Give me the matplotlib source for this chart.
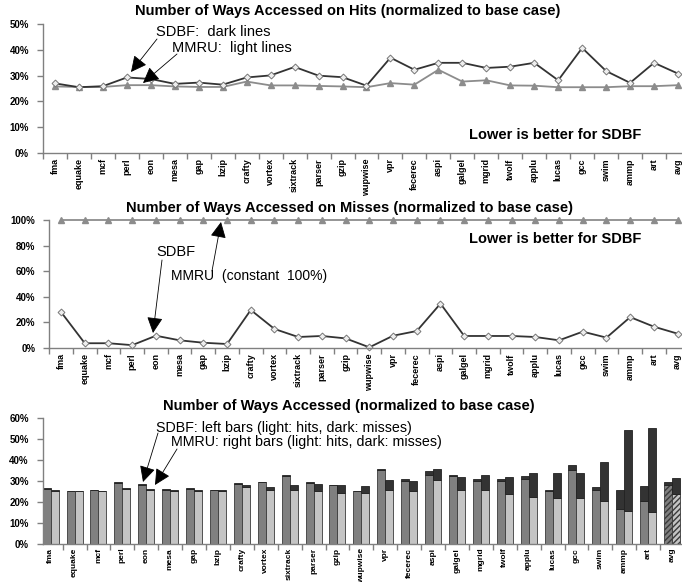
import numpy as np
import matplotlib
matplotlib.use("Agg")
import matplotlib.pyplot as plt
from matplotlib.ticker import FuncFormatter, FixedLocator

plt.rcParams['font.family'] = ['Liberation Sans', 'DejaVu Sans']

bench = ['fma', 'equake', 'mcf', 'perl', 'eon', 'mesa', 'gap', 'bzip', 'crafty',
         'vortex', 'sixtrack', 'parser', 'gzip', 'wupwise', 'vpr', 'fecerec', 'aspi',
         'galgel', 'mgrid', 'twolf', 'applu', 'lucas', 'gcc', 'swim', 'ammp', 'art', 'avg']

# ways accessed on hits (%)
hits_sdbf = [27.0, 25.5, 25.9, 29.3, 28.7, 26.8, 27.3, 26.5, 29.3, 30.1, 33.4, 30.0, 29.4,
             26.1, 37.0, 32.3, 35.0, 35.0, 33.0, 33.5, 35.0, 28.2, 40.8, 31.8, 27.2, 35.0, 30.8]
hits_mmru = [25.8, 25.6, 25.6, 26.3, 26.3, 25.8, 25.6, 25.6, 27.7, 26.2, 26.2, 26.0, 25.8,
             25.5, 27.1, 26.5, 32.3, 27.7, 28.2, 26.2, 26.1, 25.5, 25.5, 25.5, 25.9, 25.9, 26.3]

# ways accessed on misses (%)
miss_sdbf = [28.0, 3.5, 3.5, 2.0, 9.4, 5.8, 3.9, 2.9, 29.6, 14.7, 8.4, 9.2, 7.3,
             0.3, 9.4, 13.1, 34.6, 9.2, 9.2, 9.2, 8.4, 5.8, 12.6, 7.9, 24.0, 16.5, 11.0]
miss_mmru = [100, 100, 100, 100, 100, 100, 100, 100, 100, 100, 100, 100, 100, 100,
             100, 100, 100, 100, 100, 100, 100, 100, 100, 100, 100, 100, 100]

# overall ways accessed, split in hit / miss part (%)
all_sdbf_hit = [26.5, 25.2, 25.7, 29.1, 28.4, 26.0, 26.5, 25.7, 28.6, 29.4, 32.4, 29.2, 28.1,
                25.3, 35.2, 30.3, 32.7, 32.4, 30.2, 30.3, 31.0, 25.1, 35.4, 25.7, 16.7, 20.8, 28.4]
all_sdbf_miss = [0.2, 0.1, 0.2, 0.3, 0.3, 0.2, 0.2, 0.2, 0.3, 0.3, 0.5, 0.5, 0.3,
                 0.1, 0.6, 0.8, 2.2, 0.5, 0.8, 0.8, 1.4, 0.5, 2.1, 1.4, 9.2, 6.7, 1.3]
all_mmru_hit = [25.5, 25.2, 25.2, 26.2, 25.8, 25.5, 25.2, 25.2, 27.3, 25.9, 25.9, 25.1, 24.6,
                24.3, 25.9, 25.1, 30.6, 25.6, 25.9, 23.8, 22.7, 21.9, 22.1, 20.6, 16.0, 15.4, 24.1]
all_mmru_miss = [0.2, 0.2, 0.2, 0.5, 0.4, 0.4, 0.5, 0.5, 0.8, 1.1, 2.2, 3.5, 3.5,
                 3.3, 4.6, 5.1, 5.3, 6.6, 7.0, 8.1, 11.4, 11.9, 12.0, 18.4, 38.1, 39.8, 7.5]

W, H = 682, 582
fig = plt.figure(figsize=(W / 100, H / 100), dpi=100)
fig.patch.set_facecolor('white')

AXC = '#808080'


def add_ax(left, top, right, bottom):
    return fig.add_axes([left / W, 1 - bottom / H, (right - left) / W, (bottom - top) / H])


def style(ax, ymax, ystep, x0, xfs=6.5, xpad=4):
    x = np.arange(len(bench))
    ax.set_xlim(x0, len(bench) - 0.5)
    ax.set_ylim(0, ymax)
    for s in ['top', 'right']:
        ax.spines[s].set_visible(False)
    for s in ['left', 'bottom']:
        ax.spines[s].set_color(AXC)
        ax.spines[s].set_linewidth(1.0)
    ax.set_yticks(np.arange(0, ymax + 0.1, ystep))
    ax.yaxis.set_major_formatter(FuncFormatter(lambda v, p: '%d%%' % v))
    ax.set_xticks(x)
    ax.set_xticklabels(bench, rotation=90, fontsize=xfs, fontweight='bold')
    ax.xaxis.set_minor_locator(FixedLocator(np.arange(-0.5, len(bench), 1.0)))
    ax.tick_params(axis='x', which='major', length=0, pad=xpad)
    ax.tick_params(axis='x', which='minor', length=4, color=AXC, width=1)
    ax.tick_params(axis='y', length=4, color=AXC, width=1, labelsize=7, pad=6)
    for t in ax.get_yticklabels():
        t.set_fontweight('bold')


def arrow(x0, y0, x1, y1):
    fig.add_artist(matplotlib.patches.FancyArrowPatch(
        (x0 / W, 1 - y0 / H), (x1 / W, 1 - y1 / H), transform=fig.transFigure,
        arrowstyle='-|>,head_length=0.7,head_width=0.35', mutation_scale=14,
        color='black', lw=0.6, shrinkA=0, shrinkB=0))


def ftext(x, y, s, **kw):
    fig.text(x / W, 1 - y / H, s, va='center', **kw)


x = np.arange(len(bench))

# ---- top: hits
ax1 = add_ax(43, 24.3, 690, 152.7)
style(ax1, 50, 10, -0.5)
ax1.plot(x, hits_mmru, color='#8c8c8c', lw=1.3, marker='^', ms=4.5,
         mfc='#8c8c8c', mec='#8c8c8c', clip_on=False)
ax1.plot(x, hits_sdbf, color='#333333', lw=1.3, marker='D', ms=3.5,
         mfc='#eeeeee', mec='#777777', mew=0.7, clip_on=False)

ftext(348, 11, 'Number of Ways Accessed on Hits (normalized to base case)',
      ha='center', fontsize=10.5, fontweight='bold')
ftext(156, 32, 'SDBF:  dark lines', ha='left', fontsize=10.5)
ftext(172, 48, 'MMRU:  light lines', ha='left', fontsize=10.5)
ftext(555, 135, 'Lower is better for SDBF', ha='center', fontsize=10.5, fontweight='bold')
arrow(157, 39, 131, 72)
arrow(177, 54, 143, 83)

# ---- middle: misses
ax2 = add_ax(49.2, 220.3, 689.5, 347.7)
style(ax2, 100, 20, -0.5)
ax2.plot(x, miss_mmru, color='#8c8c8c', lw=1.3, marker='^', ms=4.5,
         mfc='#8c8c8c', mec='#8c8c8c', clip_on=False)
ax2.plot(x, miss_sdbf, color='#333333', lw=1.3, marker='D', ms=3.5,
         mfc='#eeeeee', mec='#777777', mew=0.7, clip_on=False)

ftext(349, 208, 'Number of Ways Accessed on Misses (normalized to base case)',
      ha='center', fontsize=10.5, fontweight='bold')
ftext(156, 252, 'SDBF', ha='left', fontsize=10.5)
ftext(171, 276, 'MMRU  (constant  100%)', ha='left', fontsize=10)
ftext(555, 239, 'Lower is better for SDBF', ha='center', fontsize=10.5, fontweight='bold')
arrow(162, 260, 153, 333)
arrow(212, 271, 221, 222)

# ---- bottom: stacked bars
ax3 = add_ax(42.7, 418, 684, 544.3)
style(ax3, 60, 10, -0.333, xfs=6.0, xpad=2.5)
bw = 0.335
n = len(bench)
for i in range(n):
    last = bench[i] == 'avg'
    hatch = '//////' if last else None
    ax3.bar(x[i] - bw / 2, all_sdbf_hit[i], bw, color='#808080', edgecolor='#3a3a3a',
            lw=0.6, hatch=hatch)
    ax3.bar(x[i] - bw / 2, all_sdbf_miss[i], bw, bottom=all_sdbf_hit[i], color='#333333',
            edgecolor='#222222', lw=0.6)
    ax3.bar(x[i] + bw / 2, all_mmru_hit[i], bw, color='#c4c4c4', edgecolor='#3a3a3a',
            lw=0.6, hatch=hatch)
    ax3.bar(x[i] + bw / 2, all_mmru_miss[i], bw, bottom=all_mmru_hit[i], color='#333333',
            edgecolor='#222222', lw=0.6)

ftext(349, 406, 'Number of Ways Accessed (normalized to base case)',
      ha='center', fontsize=10.5, fontweight='bold')
ftext(156, 428, 'SDBF: left bars (light: hits, dark: misses)', ha='left', fontsize=10.3)
ftext(171, 442, 'MMRU: right bars (light: hits, dark: misses)', ha='left', fontsize=10.3)
arrow(158, 433, 143, 482)
arrow(177, 449, 155, 485)

fig.savefig('out.png', dpi=100)
